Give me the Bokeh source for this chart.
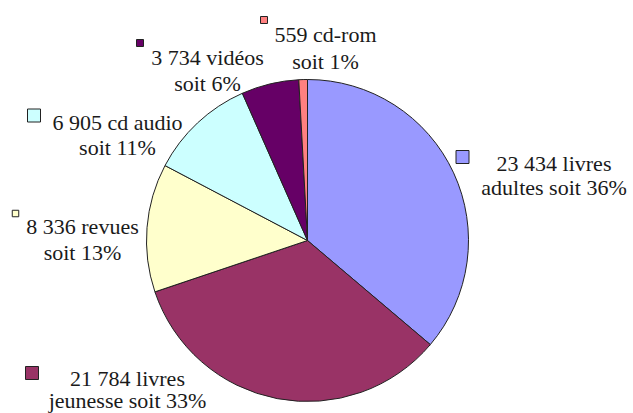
import numpy as np
from bokeh.plotting import figure
from bokeh.models import Range1d, ColumnDataSource
from bokeh.core.properties import value
from bokeh.embed import file_html
from bokeh.resources import INLINE

# ---- data ----
categories = ["livres adultes", "livres jeunesse", "revues", "cd audio", "vidéos", "cd-rom"]
counts = [23434, 21784, 8336, 6905, 3734, 559]
percents = [36, 33, 13, 11, 6, 1]
line1 = ["23 434 livres", "21 784 livres", "8 336 revues", "6 905 cd audio", "3 734 vidéos", "559 cd-rom"]
line2 = ["adultes soit 36%", "jeunesse soit 33%", "soit 13%", "soit 11%", "soit 6%", "soit 1%"]

# ---- styles / layout ----
colors = ["#9999FF", "#993366", "#FFFFCC", "#CCFFFF", "#660066", "#FF8080"]
W, H = 633, 413


def sx(x):
    return x


def sy(y):
    return H - y


cx, cy, r = 307, 240, 161
label_x = [553.5, 127, 82, 117, 207, 325]
base1 = [163, 378, 226, 122, 57, 34]
base2 = [187, 400, 252, 147, 83, 61]
mark_x = [462, 31.5, 15, 33.5, 139.5, 263.5]
mark_y = [156.5, 372.5, 213, 115, 42.5, 19.5]
mark_s = [13, 13, 6.5, 13, 7, 7]

vals = np.array(counts, dtype=float)
frac = vals / vals.sum()
cum = np.concatenate([[0], np.cumsum(frac)])
start = np.pi / 2 - cum[:-1] * 2 * np.pi
end = np.pi / 2 - cum[1:] * 2 * np.pi

p = figure(width=W, height=H, output_backend="svg", toolbar_location=None,
           x_range=Range1d(0, W), y_range=Range1d(0, H),
           x_axis_type=None, y_axis_type=None, min_border=0)
p.outline_line_color = None
p.grid.visible = False
p.background_fill_color = "white"

src = ColumnDataSource(dict(start=start, end=end, color=colors, cat=categories))
p.wedge(x=sx(cx), y=sy(cy), radius=r, start_angle="start", end_angle="end",
        direction="clock", fill_color="color", line_color="#222222", line_width=1, source=src)

font = value("Liberation Serif")
p.text(x=[sx(v) for v in label_x], y=[sy(v) for v in base1], text=line1,
       text_font=font, text_font_size="22px", text_color="#1a1a1a",
       text_align="center", text_baseline="alphabetic")
p.text(x=[sx(v) for v in label_x], y=[sy(v) for v in base2], text=line2,
       text_font=font, text_font_size="22px", text_color="#1a1a1a",
       text_align="center", text_baseline="alphabetic")

p.rect(x=[sx(v) for v in mark_x], y=[sy(v) for v in mark_y], width=mark_s, height=mark_s,
       fill_color=colors, line_color="#222222", line_width=1)

open("out.html", "w").write(file_html(p, INLINE))
